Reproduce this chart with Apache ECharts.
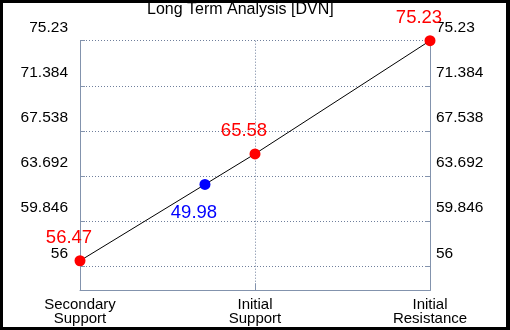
<!DOCTYPE html>
<html>
<head>
<meta charset="utf-8">
<script src="https://cdn.jsdelivr.net/npm/echarts@6/dist/echarts.min.js"></script>
<style>
html, body { margin: 0; padding: 0; background: #000; }
#frame { width: 503px; height: 324px; border-style: solid; border-color: #000; border-width: 3px 4px 3px 3px; background: #fff; }
#chart { width: 503px; height: 324px; }
</style>
</head>
<body>
<div id="frame"><div id="chart"></div></div>
<script>
// chart values
var categories = ['Secondary\nSupport', 'Initial\nSupport', 'Initial\nResistance'];
var levels = [56.47, 65.58, 75.23];
var tickValues = [56, 59.846, 63.692, 67.538, 71.384, 75.23];
var axisMin = 53.95;
var axisMax = 75.23;
var currentPrice = 49.98;
var currentPos = 0.714; // where the price marker sits, in category steps

var axisColor = '#8393ad';
var gridColor = '#6f7f9c';
var font = 'Liberation Sans, Arial, sans-serif';

// marker sits on the line between the two supports
var currentY = levels[0] + (levels[1] - levels[0]) * currentPos;

function yAxis(side, margin) {
	return {
		type: 'value',
		position: side,
		min: axisMin,
		max: axisMax,
		axisLine: { show: true, lineStyle: { color: axisColor, width: 1 } },
		axisTick: { show: true, inside: true, length: 5, customValues: tickValues, lineStyle: { color: axisColor } },
		axisLabel: {
			customValues: tickValues,
			margin: margin,
			color: '#000',
			fontFamily: font,
			fontSize: 15.5,
			verticalAlign: 'bottom',
			padding: [0, 0, 5, 0],
			formatter: function (v) { return String(v); }
		},
		splitLine: { show: side === 'left', lineStyle: { color: gridColor, type: [1, 2], width: 1 } }
	};
}

var chart = echarts.init(document.getElementById('chart'));
chart.setOption({
	animation: false,
	backgroundColor: '#fff',
	title: {
		text: 'Long Term Analysis [DVN]',
		left: 144,
		top: -1,
		padding: 0,
		textStyle: { fontFamily: font, fontSize: 16, fontWeight: 'normal', color: '#000' }
	},
	grid: { left: 77, right: 76, top: 37.7, bottom: 36.7 },
	xAxis: [{
		type: 'category',
		data: categories,
		boundaryGap: false,
		axisLine: { lineStyle: { color: axisColor, width: 1 } },
		axisTick: { show: true, inside: true, length: 7, lineStyle: { color: axisColor } },
		axisLabel: { margin: 7, color: '#000', fontFamily: font, fontSize: 15, lineHeight: 14.5, interval: 0 },
		splitLine: { show: true, lineStyle: { color: gridColor, type: [1, 2], width: 1 } }
	}, {
		type: 'value',
		min: 0,
		max: categories.length - 1,
		show: false
	}],
	yAxis: [yAxis('left', 12), yAxis('right', 6)],
	series: [{
		type: 'line',
		data: levels,
		xAxisIndex: 0,
		yAxisIndex: 0,
		symbol: 'circle',
		symbolSize: 11,
		itemStyle: { color: '#ff0000', opacity: 1 },
		lineStyle: { color: '#000', width: 1 },
		label: {
			show: true,
			position: 'top',
			offset: [-11, -3],
			color: '#ff0000',
			fontFamily: font,
			fontSize: 18.5,
			formatter: function (p) { return String(p.value); }
		},
		z: 3
	}, {
		type: 'scatter',
		data: [[currentPos, currentY]],
		xAxisIndex: 1,
		yAxisIndex: 0,
		symbolSize: 11,
		itemStyle: { color: '#0000ff', opacity: 1 },
		label: {
			show: true,
			position: 'bottom',
			offset: [-11, 8],
			color: '#0000ff',
			fontFamily: font,
			fontSize: 18.5,
			formatter: function () { return String(currentPrice); }
		},
		z: 4
	}]
});
</script>
</body>
</html>
